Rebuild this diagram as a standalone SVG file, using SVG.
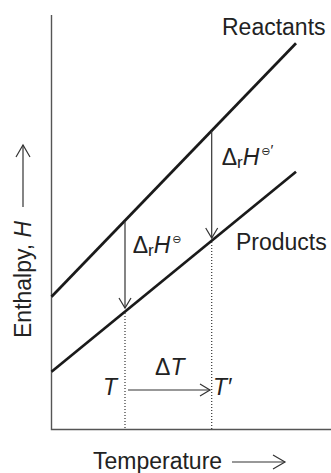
<svg xmlns="http://www.w3.org/2000/svg" width="331" height="473" viewBox="0 0 331 473">
<style>
.lbl{font-family:"Liberation Sans",Arial,sans-serif;font-size:23px;fill:#222}
.it{font-style:italic}
.axis{stroke:#555;stroke-width:1.4;fill:none}
.data{stroke:#1a1a1a;stroke-width:2.7;fill:none;stroke-linecap:butt}
.arr{stroke:#333;stroke-width:1.2;fill:none}
.dot{stroke:#333;stroke-width:1.2;stroke-dasharray:1 2;fill:none}
</style>
<rect width="331" height="473" fill="#fff"/>
<g id="axes">
<polyline class="axis" points="51.5,15 51.5,429.5 331,429.5"/>
</g>
<g id="reactants">
<line class="data" x1="51.5" y1="296.7" x2="296" y2="43.3"/>
<text class="lbl" x="222" y="35">Reactants</text>
</g>
<g id="products">
<line class="data" x1="51.5" y1="371.7" x2="296" y2="171.7"/>
<text class="lbl" x="236" y="250">Products</text>
</g>
<g id="connectors">
<line class="arr" x1="125" y1="221" x2="125" y2="308"/>
<polyline class="arr" points="119,298 125,308 131,298"/>
<line class="arr" x1="211.7" y1="131" x2="211.7" y2="238"/>
<polyline class="arr" points="205.7,228 211.7,238 217.7,228"/>
<line class="dot" x1="125" y1="313" x2="125" y2="429"/>
<line class="dot" x1="211.7" y1="242" x2="211.7" y2="429"/>
<line class="arr" x1="128" y1="390" x2="210" y2="390"/>
<polyline class="arr" points="200,384 210,390 200,396"/>
</g>
<g id="label-dH">
<text class="lbl" x="132.7" y="252.7">Δ<tspan font-size="17" dy="3">r</tspan><tspan class="it" dy="-3">H</tspan><tspan font-family="DejaVu Sans" font-size="11" dy="-10" dx="2">⊖</tspan></text>
</g>
<g id="label-dH2">
<text class="lbl" x="221.7" y="165">Δ<tspan font-size="17" dy="3">r</tspan><tspan class="it" dy="-3">H</tspan><tspan font-family="DejaVu Sans" font-size="11" dy="-10" dx="2">⊖</tspan><tspan font-size="15">′</tspan></text>
</g>
<g id="temps">
<text class="lbl it" x="103" y="395">T</text>
<text class="lbl" x="155" y="375">Δ<tspan class="it">T</tspan></text>
<text class="lbl it" x="213" y="395">T′</text>
</g>
<g id="xlabel">
<text class="lbl" x="93" y="469">Temperature</text>
<line class="arr" x1="232" y1="462" x2="285" y2="462"/>
<polyline class="arr" points="273,455 285,462 273,469"/>
</g>
<g id="ylabel">
<text class="lbl" font-size="24" transform="translate(31,338) rotate(-90)">Enthalpy, <tspan class="it">H</tspan></text>
<line class="arr" x1="23" y1="207" x2="23" y2="145"/>
<polyline class="arr" points="16,157 23,145 30,157"/>
</g>
</svg>
